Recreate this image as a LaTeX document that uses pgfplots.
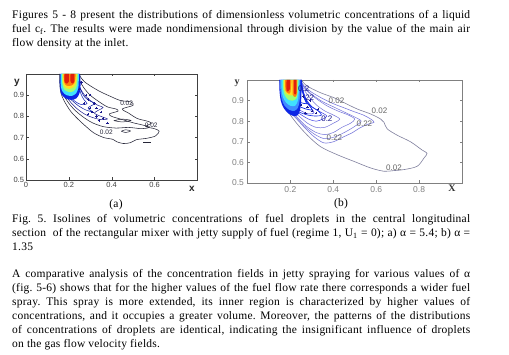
\documentclass[border=0pt]{standalone}
\usepackage{fontspec}
\setmainfont{Liberation Serif}[LetterSpace=2.0]
\setsansfont{Liberation Sans}
\usepackage{pgfplots}
\pgfplotsset{compat=1.18}
\frenchspacing
\definecolor{jdr}{rgb}{0.65,0.02,0.02}
\definecolor{jr}{rgb}{0.88,0.12,0.05}
\definecolor{jo}{rgb}{1,0.5,0.05}
\definecolor{jy}{rgb}{1,0.88,0.15}
\definecolor{jg}{rgb}{0.62,1,0.45}
\definecolor{jc}{rgb}{0.25,0.88,1}
\definecolor{jlb}{rgb}{0.25,0.55,1}
\definecolor{jb}{rgb}{0.05,0.15,0.9}
\definecolor{jnavy}{rgb}{0.1,0.1,0.55}
\definecolor{cblack}{rgb}{0.15,0.15,0.22}
\definecolor{bgray}{rgb}{0.5,0.5,0.62}
\definecolor{bpur}{rgb}{0.45,0.45,0.85}
\definecolor{bblue}{rgb}{0.25,0.25,0.9}
\newcommand\tfont{\fontsize{11.5}{14}\selectfont}
\newcommand\jline[2]{\node[anchor=base west,inner sep=0pt,font=\tfont] at (12pt,#1pt) {\makebox[458pt][s]{#2}};}
\newcommand\lline[2]{\node[anchor=base west,inner sep=0pt,font=\tfont] at (12pt,#1pt) {#2};}
\begin{document}
\begin{tikzpicture}
\path[use as bounding box, fill=white] (0,0) rectangle (509pt,355pt);
% paragraph 1
\jline{336.7}{Figures 5 - 8 present the distributions of dimensionless volumetric concentrations of a liquid}
\jline{322.7}{fuel c\textsubscript{f}. The results were made nondimensional through division by the value of the main air}
\lline{308.7}{flow density at the inlet.}
% caption
\jline{132.3}{Fig. 5. Isolines of volumetric concentrations of fuel droplets in the central longitudinal}
\jline{118.3}{section \ of the rectangular mixer with jetty supply of fuel (regime 1, U\textsubscript{1} = 0); a) α = 5.4; b) α =}
\lline{104.5}{1.35}
% paragraph 2
\jline{77.5}{A comparative analysis of the concentration fields in jetty spraying for various values of α}
\jline{63.4}{(fig. 5-6) shows that for the higher values of the fuel flow rate there corresponds a wider fuel}
\jline{49.3}{spray. This spray is more extended, its inner region is characterized by higher values of}
\jline{35.2}{concentrations, and it occupies a greater volume. Moreover, the patterns of the distributions}
\jline{21.1}{of concentrations of droplets are identical, indicating the insignificant influence of droplets}
\lline{7.0}{on the gas flow velocity fields.}
% sub labels
\node[anchor=base,inner sep=0pt,font=\tfont] at (116pt,147.5pt) {(a)};
\node[anchor=base,inner sep=0pt,font=\tfont] at (341pt,148.3pt) {(b)};
% axis labels
\node[font=\sffamily\bfseries\fontsize{10}{10}\selectfont,text=black!85] at (17pt,272pt) {y};
\node[font=\sffamily\bfseries\fontsize{10}{10}\selectfont,text=black!85] at (192pt,166pt) {x};
\node[font=\bfseries\fontsize{10}{10}\selectfont,text=black!80] at (237pt,272pt) {y};
\node[font=\bfseries\fontsize{10}{10}\selectfont,text=black!80] at (452pt,167pt) {X};
%%%%%%%%%%%%%%%%%% (a)
\begin{axis}[at={(26pt,175pt)}, anchor=south west, scale only axis,
  width=171.3pt, height=106pt, xmin=0, xmax=0.8, ymin=0.5, ymax=1,
  xtick={0,0.2,0.4,0.6}, ytick={0.5,0.6,0.7,0.8,0.9},
  axis line style={draw=black!75}, major tick length=2.5pt,
  tick style={black!75},
  /pgf/number format/assume math mode=true,
  /pgf/number format/fixed, /pgf/number format/precision=1,
  tick label style={font=\sffamily\fontsize{7.5}{8}\selectfont, text=black!75},
  xticklabel style={yshift=1.5pt}, yticklabel style={xshift=1.5pt}]
% contour lines
\addplot[cblack, line width=0.55pt, smooth, tension=0.5] coordinates {
(0.157,1.0)(0.158,0.95)(0.163,0.91)(0.18,0.87)(0.208,0.825)(0.24,0.79)(0.275,0.757)
(0.317,0.722)(0.364,0.700)(0.405,0.692)(0.425,0.680)(0.455,0.672)(0.488,0.676)
(0.515,0.690)(0.566,0.697)(0.605,0.708)(0.622,0.730)(0.600,0.742)(0.560,0.752)
(0.585,0.768)(0.565,0.778)(0.520,0.790)(0.480,0.815)(0.450,0.835)(0.500,0.852)
(0.490,0.868)(0.440,0.875)(0.400,0.892)(0.350,0.915)(0.310,0.938)(0.275,0.962)
(0.255,0.985)(0.250,1.0)};
\addplot[cblack, line width=0.55pt, smooth, tension=0.5] coordinates {
(0.165,1.0)(0.167,0.94)(0.177,0.9)(0.20,0.862)(0.232,0.826)(0.27,0.795)(0.31,0.77)
(0.36,0.752)(0.42,0.745)(0.48,0.748)(0.54,0.742)(0.575,0.748)(0.55,0.758)(0.50,0.77)
(0.45,0.785)(0.40,0.80)(0.39,0.812)(0.43,0.825)(0.42,0.835)(0.38,0.845)(0.34,0.87)
(0.30,0.90)(0.27,0.935)(0.25,0.97)(0.243,1.0)};
\addplot[jnavy, line width=0.5pt, smooth, tension=0.5] coordinates {
(0.17,1.0)(0.172,0.94)(0.185,0.9)(0.21,0.865)(0.24,0.835)(0.275,0.81)(0.31,0.795)
(0.35,0.785)(0.38,0.788)(0.35,0.80)(0.32,0.815)(0.34,0.83)(0.36,0.842)(0.33,0.855)
(0.30,0.875)(0.27,0.905)(0.25,0.94)(0.24,0.975)(0.238,1.0)};
\addplot[jb!70!black, line width=0.5pt, smooth, tension=0.5] coordinates {
(0.175,1.0)(0.178,0.94)(0.19,0.905)(0.215,0.875)(0.245,0.85)(0.28,0.83)(0.31,0.822)
(0.29,0.84)(0.32,0.86)(0.30,0.872)(0.275,0.89)(0.258,0.92)(0.245,0.96)(0.24,1.0)};
\addplot[jb!80!black, line width=0.5pt, smooth, tension=0.5] coordinates {
(0.2,0.9)(0.23,0.87)(0.26,0.855)(0.285,0.86)(0.27,0.88)(0.255,0.91)(0.248,0.95)(0.245,1.0)};
\addplot[cblack, line width=0.5pt, smooth] coordinates {
(0.41,0.780)(0.45,0.787)(0.49,0.781)(0.45,0.774)(0.41,0.780)};
\addplot[cblack, line width=0.5pt, smooth] coordinates {
(0.445,0.730)(0.465,0.737)(0.488,0.731)(0.465,0.724)(0.445,0.730)};
\addplot[cblack, line width=0.6pt] coordinates {(0.548,0.676)(0.585,0.676)};
\addplot[jnavy, only marks, mark=+, mark size=1.2pt, line width=0.4pt] coordinates {
(0.27,0.86)(0.29,0.88)(0.30,0.84)(0.32,0.86)(0.31,0.82)(0.33,0.80)(0.35,0.82)
(0.36,0.79)(0.34,0.78)(0.28,0.90)(0.25,0.93)(0.26,0.96)(0.30,0.90)(0.33,0.84)
(0.38,0.77)(0.29,0.81)};
% colored core
\addplot[fill=jb, draw=none, smooth] coordinates {
(0.158,1.0)(0.158,0.94)(0.165,0.905)(0.185,0.885)(0.21,0.878)(0.235,0.885)(0.25,0.91)(0.255,0.95)(0.252,1.0)} -- cycle;
\addplot[fill=jc, draw=none, smooth] coordinates {
(0.162,1.0)(0.163,0.94)(0.172,0.915)(0.19,0.9)(0.215,0.897)(0.235,0.91)(0.245,0.94)(0.247,1.0)} -- cycle;
\addplot[fill=jg, draw=none, smooth] coordinates {
(0.168,1.0)(0.17,0.95)(0.18,0.925)(0.2,0.915)(0.22,0.918)(0.235,0.935)(0.24,0.965)(0.242,1.0)} -- cycle;
\addplot[fill=jy, draw=none, smooth] coordinates {
(0.172,1.0)(0.174,0.955)(0.185,0.935)(0.205,0.93)(0.225,0.94)(0.235,0.965)(0.237,1.0)} -- cycle;
\addplot[fill=jo, draw=none, smooth] coordinates {
(0.176,1.0)(0.178,0.96)(0.19,0.945)(0.21,0.945)(0.225,0.955)(0.23,0.975)(0.232,1.0)} -- cycle;
\addplot[fill=jr, draw=none, smooth] coordinates {
(0.180,1.0)(0.180,0.965)(0.19,0.955)(0.2,0.965)(0.2,1.0)} -- cycle;
\addplot[fill=jr, draw=none, smooth] coordinates {
(0.208,1.0)(0.208,0.965)(0.218,0.955)(0.226,0.968)(0.226,1.0)} -- cycle;
% labels
\tikzset{alab/.style={font=\sffamily\fontsize{6.5}{7}\selectfont, text=cblack, inner sep=0.5pt}}
\node[alab] at (axis cs:0.47,0.862) {0.02};
\node[alab] at (axis cs:0.585,0.758) {0.02};
\node[alab] at (axis cs:0.375,0.726) {0.02};
\end{axis}
%%%%%%%%%%%%%%%%%% (b)
\begin{axis}[at={(247.5pt,172pt)}, anchor=south west, scale only axis,
  width=214.5pt, height=103pt, xmin=0, xmax=1, ymin=0.5, ymax=1,
  xtick={0.2,0.4,0.6,0.8}, ytick={0.5,0.6,0.7,0.8,0.9},
  axis line style={draw=black!50}, major tick length=2.5pt,
  tick style={black!50},
  /pgf/number format/assume math mode=true,
  /pgf/number format/fixed, /pgf/number format/precision=1,
  tick label style={font=\sffamily\fontsize{8.5}{9}\selectfont, text=black!50}]
\addplot[bgray, line width=0.6pt, smooth, tension=0.5] coordinates {
(0.150,1.0)(0.155,0.96)(0.165,0.90)(0.180,0.86)(0.225,0.795)(0.279,0.732)(0.341,0.676)
(0.419,0.637)(0.496,0.605)(0.574,0.573)(0.636,0.557)(0.68,0.56)(0.729,0.565)(0.791,0.581)
(0.822,0.62)(0.837,0.644)(0.814,0.66)(0.76,0.70)(0.698,0.732)(0.651,0.763)(0.636,0.795)
(0.62,0.811)(0.574,0.835)(0.512,0.859)(0.45,0.89)(0.403,0.914)(0.341,0.938)(0.279,0.97)(0.250,1.0)};
\addplot[bpur, line width=0.55pt, smooth, tension=0.5] coordinates {
(0.156,1.0)(0.16,0.95)(0.17,0.90)(0.19,0.855)(0.23,0.81)(0.27,0.765)(0.31,0.725)
(0.355,0.695)(0.40,0.70)(0.45,0.725)(0.49,0.745)(0.52,0.765)(0.56,0.785)(0.59,0.795)
(0.575,0.81)(0.54,0.83)(0.50,0.845)(0.45,0.865)(0.40,0.885)(0.35,0.91)(0.30,0.94)(0.265,0.97)(0.245,1.0)};
\addplot[bpur, line width=0.5pt, smooth, tension=0.5] coordinates {
(0.158,1.0)(0.162,0.95)(0.172,0.90)(0.192,0.858)(0.232,0.812)(0.272,0.77)(0.315,0.735)
(0.36,0.715)(0.41,0.725)(0.46,0.75)(0.50,0.775)(0.53,0.80)(0.50,0.82)(0.45,0.845)
(0.40,0.87)(0.35,0.895)(0.30,0.93)(0.265,0.965)(0.245,1.0)};
\addplot[bpur, line width=0.5pt, smooth, tension=0.5] coordinates {
(0.16,1.0)(0.164,0.95)(0.175,0.90)(0.195,0.86)(0.235,0.815)(0.275,0.775)(0.32,0.745)
(0.36,0.735)(0.40,0.745)(0.44,0.77)(0.48,0.79)(0.50,0.81)(0.47,0.83)(0.42,0.85)
(0.37,0.875)(0.32,0.91)(0.28,0.945)(0.255,0.975)(0.245,1.0)};
\addplot[bpur, line width=0.5pt, smooth, tension=0.5] coordinates {
(0.164,1.0)(0.168,0.95)(0.18,0.905)(0.20,0.865)(0.24,0.825)(0.28,0.79)(0.32,0.77)
(0.36,0.77)(0.40,0.79)(0.43,0.81)(0.40,0.83)(0.36,0.85)(0.32,0.88)(0.29,0.915)
(0.265,0.95)(0.25,0.98)(0.245,1.0)};
\addplot[bblue, line width=0.5pt, smooth, tension=0.5] coordinates {
(0.168,1.0)(0.172,0.95)(0.185,0.905)(0.205,0.87)(0.245,0.835)(0.285,0.81)(0.32,0.8)
(0.35,0.81)(0.37,0.825)(0.34,0.845)(0.30,0.87)(0.275,0.905)(0.26,0.945)(0.25,0.985)(0.248,1.0)};
\addplot[bblue, line width=0.5pt, smooth, tension=0.5] coordinates {
(0.172,1.0)(0.176,0.95)(0.19,0.91)(0.21,0.88)(0.25,0.85)(0.285,0.835)(0.31,0.84)
(0.30,0.86)(0.28,0.885)(0.265,0.92)(0.255,0.96)(0.25,1.0)};
\addplot[jb, line width=0.6pt, smooth, tension=0.5] coordinates {
(0.2,0.87)(0.24,0.845)(0.28,0.83)(0.32,0.825)(0.345,0.83)(0.33,0.85)(0.30,0.87)
(0.275,0.9)(0.26,0.94)(0.252,0.98)(0.25,1.0)};
\addplot[jb, line width=0.7pt, smooth, tension=0.5] coordinates {
(0.2,0.9)(0.235,0.875)(0.27,0.86)(0.3,0.855)(0.29,0.875)(0.27,0.9)(0.258,0.94)(0.252,1.0)};
\addplot[jb, line width=0.7pt, smooth, tension=0.5] coordinates {
(0.22,0.9)(0.25,0.89)(0.275,0.885)(0.265,0.91)(0.255,0.95)(0.25,1.0)};
\addplot[jnavy, only marks, mark=+, mark size=1.2pt, line width=0.4pt] coordinates {
(0.26,0.92)(0.28,0.87)(0.3,0.85)(0.27,0.84)(0.32,0.84)(0.25,0.88)(0.29,0.9)(0.33,0.86)};
% colored core
\addplot[fill=jb, draw=none, smooth] coordinates {
(0.148,1.0)(0.149,0.95)(0.155,0.9)(0.168,0.865)(0.19,0.838)(0.215,0.825)(0.235,0.83)
(0.245,0.855)(0.25,0.9)(0.252,0.95)(0.252,1.0)} -- cycle;
\addplot[fill=jlb, draw=none, smooth] coordinates {
(0.152,1.0)(0.153,0.95)(0.16,0.905)(0.173,0.875)(0.195,0.855)(0.218,0.85)(0.235,0.865)
(0.243,0.9)(0.246,0.95)(0.247,1.0)} -- cycle;
\addplot[fill=jc, draw=none, smooth] coordinates {
(0.158,1.0)(0.159,0.95)(0.166,0.915)(0.18,0.89)(0.2,0.875)(0.222,0.875)(0.235,0.9)
(0.24,0.95)(0.242,1.0)} -- cycle;
\addplot[fill=jg, draw=none, smooth] coordinates {
(0.165,1.0)(0.166,0.955)(0.174,0.925)(0.19,0.905)(0.21,0.9)(0.228,0.91)(0.235,0.95)(0.237,1.0)} -- cycle;
\addplot[fill=jy, draw=none, smooth] coordinates {
(0.17,1.0)(0.171,0.96)(0.18,0.935)(0.2,0.925)(0.22,0.93)(0.23,0.955)(0.232,1.0)} -- cycle;
\addplot[fill=jo, draw=none, smooth] coordinates {
(0.176,1.0)(0.177,0.95)(0.19,0.935)(0.2,0.94)(0.205,1.0)} -- cycle;
\addplot[fill=jo, draw=none, smooth] coordinates {
(0.211,1.0)(0.211,0.93)(0.222,0.918)(0.231,0.935)(0.231,1.0)} -- cycle;
\addplot[fill=jr, draw=none, smooth] coordinates {
(0.182,1.0)(0.182,0.95)(0.19,0.945)(0.197,0.955)(0.198,1.0)} -- cycle;
\addplot[fill=jr, draw=none, smooth] coordinates {
(0.216,1.0)(0.216,0.94)(0.222,0.93)(0.228,0.94)(0.228,1.0)} -- cycle;
% labels
\tikzset{blab/.style={font=\sffamily\fontsize{8}{8}\selectfont, text=black!60, inner sep=0.5pt}}
\node[blab] at (axis cs:0.415,0.90) {0.02};
\node[blab] at (axis cs:0.615,0.85) {0.02};
\node[blab] at (axis cs:0.545,0.79) {0.22};
\node[blab] at (axis cs:0.405,0.718) {0.22};
\node[blab] at (axis cs:0.683,0.575) {0.02};
\node[blab, text=jnavy] at (axis cs:0.262,0.957) {0.2};
\node[blab, text=jnavy] at (axis cs:0.29,0.915) {22};
\node[blab, text=jnavy] at (axis cs:0.37,0.81) {0.2};
\end{axis}
\end{tikzpicture}
\end{document}
